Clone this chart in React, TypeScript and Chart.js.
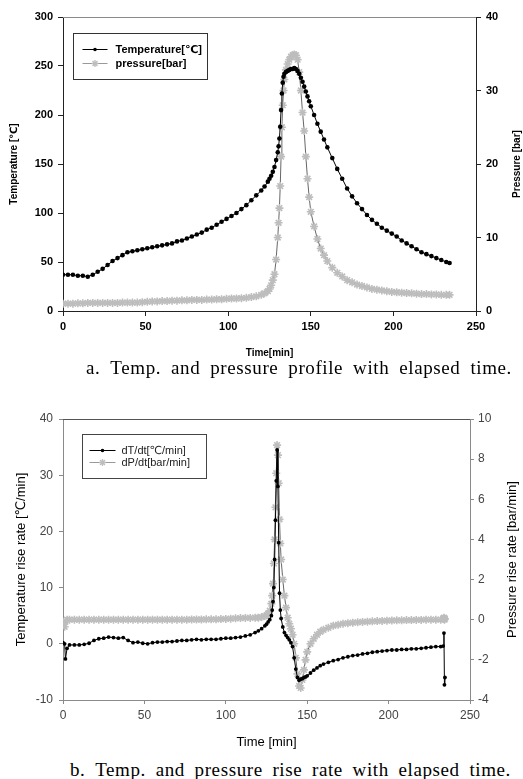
import React, { useEffect, useRef } from 'react';
import { Chart, registerables } from 'chart.js';

Chart.register(...registerables);

// ---------- Chart a: temperature & pressure profile ----------
const timeA = [0, 3, 6, 9, 12, 15, 18, 21, 24, 27, 30, 33, 36, 39, 42, 45, 48, 51, 54, 57, 60, 63, 66, 69, 72, 75, 78, 81, 84, 87, 90, 93, 96, 99, 102, 105, 108, 111, 114, 117, 120,
  122, 124, 125, 126, 127, 128, 129, 130, 130.5, 131, 131.5, 132, 132.5, 133, 133.5, 134,
  135, 136, 137, 138, 139, 140, 141, 142, 143, 144, 145, 146, 147, 148, 149, 150,
  152, 154, 156, 158, 160, 163, 166, 169, 172, 175, 178, 181, 184, 187, 190, 193, 196, 199, 202, 205, 208, 211, 214, 217, 220, 223, 226, 229, 232, 234];
const temperatureC = [37, 37, 37, 36, 36, 35, 37, 40, 43, 47, 51, 54, 57, 60, 61, 62, 63, 64, 65, 66, 67, 68, 69, 71, 72, 74, 76, 78, 80, 83, 85, 88, 91, 94, 97, 100, 104, 108, 113, 118, 123,
  127, 132, 135, 138, 142, 147, 154, 162, 168, 176, 188, 205, 222, 233, 239, 242,
  244, 245, 246, 247, 247, 248, 247, 245, 242, 238, 234, 229, 224, 219, 214, 209,
  200, 191, 183, 175, 167, 156, 145, 135, 125, 117, 110, 104, 98, 93, 89, 85, 82, 79, 76, 72, 69, 66, 63, 60, 58, 56, 54, 52, 50, 49];
const pressureBar = [1.0, 1.0, 1.0, 1.05, 1.05, 1.1, 1.1, 1.1, 1.1, 1.1, 1.1, 1.1, 1.15, 1.15, 1.15, 1.15, 1.2, 1.25, 1.3, 1.3, 1.35, 1.35, 1.4, 1.4, 1.45, 1.45, 1.5, 1.5, 1.5, 1.55, 1.55, 1.6, 1.6, 1.65, 1.7, 1.7, 1.75, 1.8, 1.9, 2.0, 2.2,
  2.4, 2.7, 3.0, 3.5, 4.2, 5.0, 7.0, 10, 12, 14, 17, 21, 25, 28, 30, 31.5,
  32.8, 33.6, 34.2, 34.6, 34.8, 34.9, 34.8, 34.2, 32.5, 30, 27, 24.5, 21, 18, 15.5, 13.5,
  11.5, 9.8, 8.5, 7.6, 6.8, 5.9, 5.2, 4.7, 4.2, 3.9, 3.6, 3.4, 3.2, 3.0, 2.9, 2.8, 2.7, 2.6, 2.55, 2.5, 2.45, 2.4, 2.35, 2.3, 2.3, 2.25, 2.25, 2.2, 2.2, 2.2];

// ---------- Chart b: rise rates ----------
const timeB = [0, 1, 1.5, 2.5,
  4, 7, 10, 13, 16, 19, 22, 25, 28, 31, 34, 37, 40, 43, 46, 49, 52, 55, 58, 61, 64, 67, 70, 73, 76, 79, 82, 85, 88, 91, 94, 97, 100, 103, 106, 109, 112, 115, 118,
  120, 122, 124, 125, 126, 127, 128,
  128.5, 129, 129.5, 130, 130.5, 131, 131.5, 132, 132.5, 133, 133.5, 134,
  135, 136, 137, 138, 139, 140, 141, 142, 143, 144, 145, 146, 147, 148, 149, 150,
  152, 154, 156, 158, 160,
  163, 166, 169, 172, 175, 178, 181, 184, 187, 190, 193, 196, 199, 202, 205, 208, 211, 214, 217, 220, 223, 226, 229, 232,
  233.5, 234, 234.3, 234.6];
const dTdt = [0.2, 0.0, -2.7, -0.8,
  -0.2, -0.2, -0.2, -0.1, 0.1, 0.6, 0.9, 1.0, 1.2, 1.1, 1.0, 1.1, 0.6, 0.2, 0.3, 0.1, 0.0, 0.2, 0.3, 0.3, 0.4, 0.4, 0.5, 0.6, 0.6, 0.7, 0.8, 0.7, 0.8, 0.8, 0.8, 0.9, 1.0, 1.0, 1.1, 1.2, 1.4, 1.6, 2.0,
  2.3, 2.7, 3.2, 3.5, 3.9, 4.3, 5.0,
  6.0, 7.5, 10, 15, 22, 29, 34.5, 28, 18, 9, 6, 4.5,
  3.0, 2.0, 1.5, 1.1, 0.7, 0.2, -0.5, -2.5, -4.5, -6.0, -6.5, -6.3, -6.2, -6.0, -5.9, -5.7,
  -5.2, -4.7, -4.3, -3.9, -3.6,
  -3.3, -3.0, -2.8, -2.5, -2.3, -2.1, -2.0, -1.8, -1.7, -1.5, -1.4, -1.3, -1.2, -1.1, -1.1, -1.0, -1.0, -0.9, -0.9, -0.8, -0.7, -0.6, -0.5, -0.5,
  -0.4, 1.9, -7.3, -6.0];
const dPdt = [-0.1, -0.35, -0.1, 0,
  0, 0, 0, 0, 0, 0, 0, 0, 0, 0, 0, 0, 0, 0, 0, 0, 0, 0, 0, 0, 0, 0, 0, 0, 0, 0.01, 0.01, 0.01, 0.02, 0.02, 0.02, 0.03, 0.04, 0.05, 0.07, 0.08, 0.09, 0.09, 0.1,
  0.1, 0.13, 0.18, 0.22, 0.3, 0.45, 0.8,
  1.2, 1.8, 2.8, 4.0, 5.6, 7.3, 8.7, 8.2, 6.8, 5.0, 3.8, 3.0,
  2.0, 1.2, 0.6, 0.1, -0.2, -0.45, -0.75, -1.2, -1.9, -2.7, -3.3, -3.4, -3.0, -2.5, -2.0, -1.6,
  -1.2, -0.95, -0.75, -0.6, -0.5,
  -0.4, -0.3, -0.25, -0.2, -0.17, -0.15, -0.13, -0.11, -0.1, -0.08, -0.07, -0.06, -0.05, -0.04, -0.03, -0.03, -0.02, -0.02, -0.01, -0.01, 0, 0, 0, 0,
  0.05, 0.1, 0.0, 0.05];

// ---------- Tick labels ----------
const timeTicks = [0, 50, 100, 150, 200, 250];
const tempTicks = [0, 50, 100, 150, 200, 250, 300];
const pressTicks = [0, 10, 20, 30, 40];
const tempRateTicks = [-10, 0, 10, 20, 30, 40];
const pressRateTicks = [-4, -2, 0, 2, 4, 6, 8, 10];

const captionA = 'a. Temp. and pressure profile with elapsed time.';
const captionB = 'b. Temp. and pressure rise rate with elapsed time.';

const SANS = '"Liberation Sans", Arial, "DejaVu Sans", sans-serif';
const SERIF = '"Liberation Serif", "Times New Roman", serif';

const pts = (xs: number[], ys: number[]) => xs.map((x, i) => ({ x, y: ys[i] }));

function drawMarker(ctx: any, style: string, x: number, y: number, r: number, color: string, lw: number) {
  ctx.save();
  ctx.strokeStyle = color;
  ctx.fillStyle = color;
  ctx.lineWidth = lw;
  if (style === 'circle') {
    ctx.beginPath();
    ctx.arc(x, y, r, 0, Math.PI * 2);
    ctx.fill();
  } else {
    const d = r * Math.SQRT1_2;
    ctx.beginPath();
    ctx.moveTo(x - d, y - d); ctx.lineTo(x + d, y + d);
    ctx.moveTo(x - d, y + d); ctx.lineTo(x + d, y - d);
    ctx.moveTo(x, y - r); ctx.lineTo(x, y + r);
    ctx.moveTo(x - r, y); ctx.lineTo(x + r, y);
    ctx.stroke();
  }
  ctx.restore();
}

const framePlugin = {
  id: 'frame',
  afterDraw(chart: any, _args: any, opts: any) {
    const { ctx, chartArea: ca } = chart;
    ctx.save();
    ctx.strokeStyle = opts.topColor;
    ctx.lineWidth = 1;
    ctx.beginPath();
    ctx.moveTo(ca.left, Math.round(ca.top) + 0.5);
    ctx.lineTo(ca.right, Math.round(ca.top) + 0.5);
    ctx.stroke();
    ctx.restore();

    // right axis title (reads bottom to top)
    ctx.save();
    ctx.fillStyle = opts.titleColor;
    ctx.font = opts.titleFont;
    ctx.textAlign = 'center';
    ctx.textBaseline = 'middle';
    ctx.translate(chart.width - opts.titleInset, (ca.top + ca.bottom) / 2);
    ctx.rotate(-Math.PI / 2);
    ctx.fillText(opts.rightTitle, 0, 0);
    ctx.restore();

    // boxed legend
    const lg = opts.legend;
    const bx = Math.round(ca.left + lg.dx) + 0.5;
    const by = Math.round(ca.top + lg.dy) + 0.5;
    ctx.save();
    ctx.fillStyle = '#fff';
    ctx.fillRect(bx, by, lg.w, lg.h);
    ctx.strokeStyle = lg.borderColor;
    ctx.lineWidth = 1;
    ctx.strokeRect(bx, by, lg.w, lg.h);
    chart.data.datasets.forEach((ds: any, i: number) => {
      const y = by + lg.firstRow + i * lg.rowGap;
      const x0 = bx + lg.lineStart;
      const x1 = x0 + lg.lineLen;
      ctx.strokeStyle = ds.legendLineColor;
      ctx.lineWidth = 1;
      ctx.beginPath();
      ctx.moveTo(x0, y);
      ctx.lineTo(x1, y);
      ctx.stroke();
      drawMarker(ctx, ds.pointStyle, (x0 + x1) / 2, y, ds.pointStyle === 'circle' ? 1.8 : 3.5, ds.pointBorderColor, 1.3);
      ctx.fillStyle = lg.textColor;
      ctx.font = lg.font;
      ctx.textAlign = 'left';
      ctx.textBaseline = 'middle';
      ctx.fillText(ds.label, bx + lg.textStart, y + 0.5);
    });
    ctx.restore();
  },
};

const fixedTicks = (arr: number[]) => (s: any) => {
  s.ticks = arr.map((v) => ({ value: v }));
};

function makeConfigA(): any {
  const axisColor = '#222';
  const tickFont = { family: SANS, size: 11, weight: 'bold' as const };
  const titleFont = { family: SANS, size: 10, weight: 'bold' as const };
  return {
    type: 'line',
    data: {
      datasets: [
        {
          label: 'Temperature[℃]',
          data: pts(timeA, temperatureC),
          yAxisID: 'y',
          borderColor: '#000',
          borderWidth: 1,
          pointStyle: 'circle',
          pointRadius: 2.3,
          pointBorderWidth: 0,
          pointBackgroundColor: '#000',
          pointBorderColor: '#000',
          legendLineColor: '#000',
          tension: 0,
        },
        {
          label: 'pressure[bar]',
          data: pts(timeA, pressureBar),
          yAxisID: 'y1',
          borderColor: '#666',
          borderWidth: 1,
          pointStyle: 'star',
          pointRadius: 4,
          pointBorderWidth: 1.6,
          pointBackgroundColor: '#bdbdbd',
          pointBorderColor: '#bdbdbd',
          legendLineColor: '#999',
          tension: 0,
        },
      ],
    },
    options: {
      responsive: false,
      animation: false,
      events: [],
      layout: { padding: { top: 17, left: 0, right: 0, bottom: 0 } },
      plugins: {
        legend: { display: false },
        tooltip: { enabled: false },
        frame: {
          topColor: '#8a8a8a',
          titleColor: '#000',
          titleFont: `bold 10px ${SANS}`,
          titleInset: 6,
          rightTitle: 'Pressure [bar]',
          legend: { dx: 10, dy: 16, w: 134, h: 46, firstRow: 16, rowGap: 14, lineStart: 9, lineLen: 25, textStart: 42, borderColor: '#333', textColor: '#000', font: `bold 11px ${SANS}` },
        },
      },
      scales: {
        x: {
          type: 'linear',
          min: timeTicks[0],
          max: timeTicks[timeTicks.length - 1],
          afterBuildTicks: fixedTicks(timeTicks),
          afterFit: (s: any) => { s.height = 49; },
          grid: { drawOnChartArea: false, drawTicks: true, tickLength: 5, color: axisColor },
          border: { display: true, color: axisColor },
          ticks: { font: tickFont, color: '#000', padding: 4, autoSkip: false, maxRotation: 0 },
          title: { display: true, text: 'Time[min]', font: titleFont, color: '#000', padding: { top: 0, bottom: 1 } },
        },
        y: {
          type: 'linear',
          position: 'left',
          min: tempTicks[0],
          max: tempTicks[tempTicks.length - 1],
          afterBuildTicks: fixedTicks(tempTicks),
          afterFit: (s: any) => { s.width = 63; },
          grid: { drawOnChartArea: false, drawTicks: true, tickLength: 5, color: axisColor },
          border: { display: true, color: axisColor },
          ticks: { font: tickFont, color: '#000', padding: 5, autoSkip: false },
          title: { display: true, text: 'Temperature [℃]', font: titleFont, color: '#000', padding: { top: 8, bottom: 0 } },
        },
        y1: {
          type: 'linear',
          position: 'right',
          min: pressTicks[0],
          max: pressTicks[pressTicks.length - 1],
          afterBuildTicks: fixedTicks(pressTicks),
          afterFit: (s: any) => { s.width = 47; },
          grid: { drawOnChartArea: false, drawTicks: true, tickLength: 5, color: axisColor },
          border: { display: true, color: axisColor },
          ticks: { font: tickFont, color: '#000', padding: 5, autoSkip: false },
        },
      },
    },
    plugins: [framePlugin],
  };
}

function makeConfigB(): any {
  const axisColor = '#8a8a8a';
  const tickFont = { family: SANS, size: 12 };
  const titleFont = { family: SANS, size: 13 };
  return {
    type: 'line',
    data: {
      datasets: [
        {
          label: 'dT/dt[℃/min]',
          data: pts(timeB, dTdt),
          yAxisID: 'y',
          borderColor: '#000',
          borderWidth: 1,
          pointStyle: 'circle',
          pointRadius: 1.9,
          pointBorderWidth: 0,
          pointBackgroundColor: '#000',
          pointBorderColor: '#000',
          legendLineColor: '#000',
          tension: 0,
        },
        {
          label: 'dP/dt[bar/min]',
          data: pts(timeB, dPdt),
          yAxisID: 'y1',
          borderColor: '#666',
          borderWidth: 1,
          pointStyle: 'star',
          pointRadius: 4,
          pointBorderWidth: 1.6,
          pointBackgroundColor: '#bdbdbd',
          pointBorderColor: '#bdbdbd',
          legendLineColor: '#999',
          tension: 0,
        },
      ],
    },
    options: {
      responsive: false,
      animation: false,
      events: [],
      layout: { padding: { top: 19, left: 0, right: 0, bottom: 0 } },
      plugins: {
        legend: { display: false },
        tooltip: { enabled: false },
        frame: {
          topColor: '#555',
          titleColor: '#000',
          titleFont: `13px ${SANS}`,
          titleInset: 11,
          rightTitle: 'Pressure rise rate [bar/min]',
          legend: { dx: 19, dy: 15, w: 124, h: 44, firstRow: 16, rowGap: 12, lineStart: 7, lineLen: 26, textStart: 39, borderColor: '#444', textColor: '#222', font: `11px ${SANS}` },
        },
      },
      scales: {
        x: {
          type: 'linear',
          min: timeTicks[0],
          max: timeTicks[timeTicks.length - 1],
          afterBuildTicks: fixedTicks(timeTicks),
          afterFit: (s: any) => { s.height = 55; },
          grid: { drawOnChartArea: false, drawTicks: true, tickLength: 4, color: axisColor },
          border: { display: true, color: axisColor },
          ticks: { font: tickFont, color: '#444', padding: 4, autoSkip: false, maxRotation: 0 },
          title: { display: true, text: 'Time [min]', font: titleFont, color: '#000', padding: { top: 0, bottom: 5 } },
        },
        y: {
          type: 'linear',
          position: 'left',
          min: tempRateTicks[0],
          max: tempRateTicks[tempRateTicks.length - 1],
          afterBuildTicks: fixedTicks(tempRateTicks),
          afterFit: (s: any) => { s.width = 63; },
          grid: { drawOnChartArea: false, drawTicks: true, tickLength: 4, color: axisColor },
          border: { display: true, color: axisColor },
          ticks: { font: tickFont, color: '#444', padding: 6, autoSkip: false },
          title: { display: true, text: 'Temperature rise rate [℃/min]', font: titleFont, color: '#000', padding: { top: 14, bottom: 0 } },
        },
        y1: {
          type: 'linear',
          position: 'right',
          min: pressRateTicks[0],
          max: pressRateTicks[pressRateTicks.length - 1],
          afterBuildTicks: fixedTicks(pressRateTicks),
          afterFit: (s: any) => { s.width = 53; },
          grid: { drawOnChartArea: false, drawTicks: true, tickLength: 4, color: axisColor },
          border: { display: true, color: axisColor },
          ticks: { font: tickFont, color: '#444', padding: 4, autoSkip: false },
        },
      },
    },
    plugins: [framePlugin],
  };
}

function ChartCanvas({ make, top, height }: { make: () => any; top: number; height: number }) {
  const ref = useRef<HTMLCanvasElement | null>(null);
  useEffect(() => {
    if (!ref.current) return;
    const chart = new Chart(ref.current, make());
    return () => chart.destroy();
  }, [make]);
  return (
    <canvas
      ref={ref}
      width={523}
      height={height}
      style={{ position: 'absolute', left: 0, top, width: 523, height, display: 'block' }}
    />
  );
}

function Caption({ text, left, top, width }: { text: string; left: number; top: number; width: number }) {
  return (
    <div
      style={{
        position: 'absolute',
        left,
        top,
        width,
        display: 'flex',
        justifyContent: 'space-between',
        fontFamily: SERIF,
        fontSize: 19,
        letterSpacing: '0.6px',
        lineHeight: '20px',
        color: '#000',
        whiteSpace: 'nowrap',
      }}
    >
      {text.split(' ').map((w, i) => (
        <span key={i}>{w}</span>
      ))}
    </div>
  );
}

export default function App() {
  return (
    <div style={{ position: 'absolute', left: 0, top: 0, width: 523, height: 779, overflow: 'hidden', background: '#fff' }}>
      <ChartCanvas make={makeConfigA} top={0} height={360} />
      <Caption text={captionA} left={86} top={358} width={426} />
      <ChartCanvas make={makeConfigB} top={400} height={355} />
      <Caption text={captionB} left={70} top={760} width={441} />
    </div>
  );
}
